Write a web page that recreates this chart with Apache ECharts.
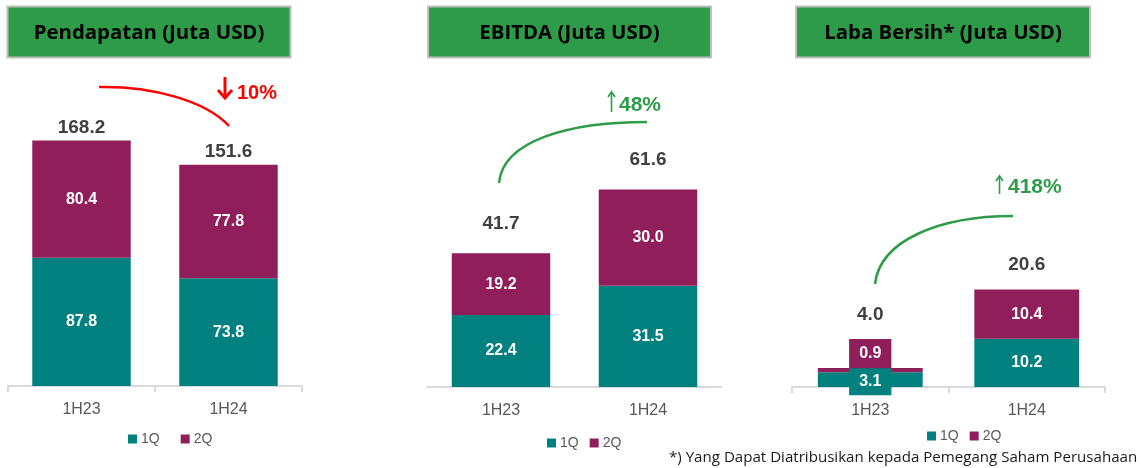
<!DOCTYPE html>
<html>
<head>
<meta charset="utf-8">
<script src="https://cdn.jsdelivr.net/npm/echarts@6/dist/echarts.min.js"></script>
<style>html,body{margin:0;padding:0;background:#fff;}#c{width:1141px;height:468px;}</style>
</head>
<body>
<div id="c"></div>
<script>
const categories = ['1H23', '1H24'];
const seriesNames = ['1Q', '2Q'];
const revenueQ1 = [87.8, 73.8];
const revenueQ2 = [80.4, 77.8];
const revenueTotal = [168.2, 151.6];
const ebitdaQ1 = [22.4, 31.5];
const ebitdaQ2 = [19.2, 30.0];
const ebitdaTotal = [41.7, 61.6];
const netQ1 = [3.1, 10.2];
const netQ2 = [0.9, 10.4];
const netTotal = [4.0, 20.6];
const titles = ['Pendapatan (Juta USD)', 'EBITDA (Juta USD)', 'Laba Bersih* (Juta USD)'];
const changes = ['10%', '48%', '418%'];
const footnote = '*) Yang Dapat Diatribusikan kepada Pemegang Saham Perusahaan';

const TEAL = '#00807F', PURPLE = '#8F1E5A', GREEN = '#2E9B48', RED = '#FF0000';
const LBL_FONT = '"Liberation Sans", Arial, sans-serif';

const panels = [
  { q1: revenueQ1, q2: revenueQ2, total: revenueTotal, grid: { left: 8, width: 294, top: 94, height: 292 }, max: 200, ticks: true, totalDist: [3, 3],
    legend: { left: 123, top: 427, gap: 21 } },
  { q1: ebitdaQ1, q2: ebitdaQ2, total: ebitdaTotal, grid: { left: 427.5, width: 294, top: 130, height: 257 }, max: 80, ticks: false, totalDist: [19, 19],
    legend: { left: 542, top: 431, gap: 11 } },
  { q1: netQ1, q2: netQ2, total: netTotal, grid: { left: 792, width: 313, top: 150.5, height: 236.5 }, max: 50, ticks: true, totalDist: [43, 15],
    legend: { left: 922, top: 424, gap: 11 } }
];

const fmt = p => Number(p.value).toFixed(1);

const grid = [], xAxis = [], yAxis = [], series = [], legend = [];
panels.forEach((p, i) => {
  grid.push(Object.assign({}, p.grid));
  xAxis.push({
    type: 'category', gridIndex: i, data: categories,
    axisLine: { lineStyle: { color: '#D9D9D9', width: 2 } },
    axisTick: { show: p.ticks, length: 6, lineStyle: { color: '#D9D9D9', width: 2 } },
    axisLabel: { color: '#595959', fontSize: 16, margin: 16, fontFamily: LBL_FONT }
  });
  yAxis.push({ type: 'value', gridIndex: i, min: 0, max: p.max, show: false, splitLine: { show: false } });
  const pxPerUnit = p.grid.height / p.max;
  const mk = (arr, color, isTop) => arr.map(v => {
    const small = v * pxPerUnit < 20;
    if (!small) return v;
    return {
      value: v,
      label: isTop
        ? { position: 'top', distance: 0, backgroundColor: color, padding: [7, 10, 6, 10] }
        : { position: 'inside', backgroundColor: color, padding: [6, 10, 5, 10], offset: [0, 2] }
    };
  });
  const lbl = { show: true, position: 'inside', color: '#fff', fontWeight: 'bold', fontSize: 16, fontFamily: LBL_FONT, formatter: fmt };
  series.push({
    name: seriesNames[0], type: 'bar', stack: 's' + i, xAxisIndex: i, yAxisIndex: i,
    data: mk(p.q1, TEAL, false), itemStyle: { color: TEAL }, barCategoryGap: '33%', label: lbl, silent: true
  });
  series.push({
    name: seriesNames[1], type: 'bar', stack: 's' + i, xAxisIndex: i, yAxisIndex: i,
    data: mk(p.q2, PURPLE, true), itemStyle: { color: PURPLE }, barCategoryGap: '33%', label: lbl, silent: true
  });
  series.push({
    name: 'Total', type: 'scatter', xAxisIndex: i, yAxisIndex: i, symbolSize: 1,
    itemStyle: { color: '#ffffff', opacity: 1 }, silent: true, z: 1,
    data: p.total.map((v, k) => ({ value: v, label: { distance: p.totalDist[k] } })),
    label: { show: true, position: 'top', color: '#404040', fontWeight: 'bold', fontSize: 19, fontFamily: LBL_FONT, formatter: fmt }
  });
  legend.push({
    data: seriesNames, left: p.legend.left, top: p.legend.top, itemGap: p.legend.gap,
    itemWidth: 9, itemHeight: 9, icon: 'rect', selectedMode: false,
    textStyle: { color: '#595959', fontSize: 14, fontFamily: LBL_FONT, padding: [0, 0, 0, -1] }
  });
});

// Title boxes
const titleBoxes = [ { x: 7.5, w: 283 }, { x: 428, w: 283 }, { x: 796, w: 294 } ];
const graphic = [];
titleBoxes.forEach((b, i) => {
  graphic.push({ type: 'rect', shape: { x: b.x, y: 6.5, width: b.w, height: 51 }, style: { fill: GREEN, stroke: '#BFBFBF', lineWidth: 2 }, silent: true });
  graphic.push({ type: 'text', x: b.x + b.w / 2, y: 33, style: { text: titles[i], fill: '#000', font: 'bold 20.4px "Open Sans", sans-serif', align: 'center', verticalAlign: 'middle' }, silent: true });
});
// Annotation curves
graphic.push({ type: 'bezierCurve', shape: { x1: 99, y1: 87, cpx1: 150, cpy1: 86, cpx2: 205, cpy2: 100, x2: 229, y2: 126 }, style: { stroke: RED, lineWidth: 2.5, fill: null }, silent: true });
graphic.push({ type: 'bezierCurve', shape: { x1: 499, y1: 183, cpx1: 503, cpy1: 140, cpx2: 570, cpy2: 122, x2: 647, y2: 122 }, style: { stroke: GREEN, lineWidth: 2.5, fill: null }, silent: true });
graphic.push({ type: 'bezierCurve', shape: { x1: 875, y1: 284, cpx1: 880, cpy1: 240, cpx2: 940, cpy2: 216, x2: 1013, y2: 216 }, style: { stroke: GREEN, lineWidth: 2.5, fill: null }, silent: true });
// Down arrow (red, bold)
graphic.push({ type: 'line', shape: { x1: 225, y1: 77, x2: 225, y2: 97 }, style: { stroke: RED, lineWidth: 3 }, silent: true });
graphic.push({ type: 'polyline', shape: { points: [[218, 90], [225, 98], [232, 90]] }, style: { stroke: RED, lineWidth: 3, fill: null }, silent: true });
graphic.push({ type: 'text', x: 237, y: 93, style: { text: changes[0], fill: RED, font: 'bold 20px "Liberation Sans", Arial, sans-serif', align: 'left', verticalAlign: 'middle' }, silent: true });
// Up arrows (green, thin)
[[611.5, 92, 112, 619, 105, changes[1]], [999.5, 176, 194, 1008, 187, changes[2]]].forEach(a => {
  graphic.push({ type: 'line', shape: { x1: a[0], y1: a[1] + 1, x2: a[0], y2: a[2] }, style: { stroke: GREEN, lineWidth: 1.6 }, silent: true });
  graphic.push({ type: 'polyline', shape: { points: [[a[0] - 3.5, a[1] + 5], [a[0], a[1]], [a[0] + 3.5, a[1] + 5]] }, style: { stroke: GREEN, lineWidth: 1.6, fill: null }, silent: true });
  graphic.push({ type: 'text', x: a[3], y: a[4], style: { text: a[5], fill: GREEN, font: 'bold 21px "Liberation Sans", Arial, sans-serif', align: 'left', verticalAlign: 'middle' }, silent: true });
});
// Footnote
graphic.push({ type: 'text', x: 669, y: 458, style: { text: footnote, fill: '#1A1A1A', font: '15.1px "Open Sans", sans-serif', align: 'left', verticalAlign: 'middle' }, silent: true });

const chart = echarts.init(document.getElementById('c'), null, { renderer: 'canvas' });
chart.setOption({
  animation: false,
  backgroundColor: '#fff',
  grid, xAxis, yAxis, series, legend, graphic
});
</script>
</body>
</html>
